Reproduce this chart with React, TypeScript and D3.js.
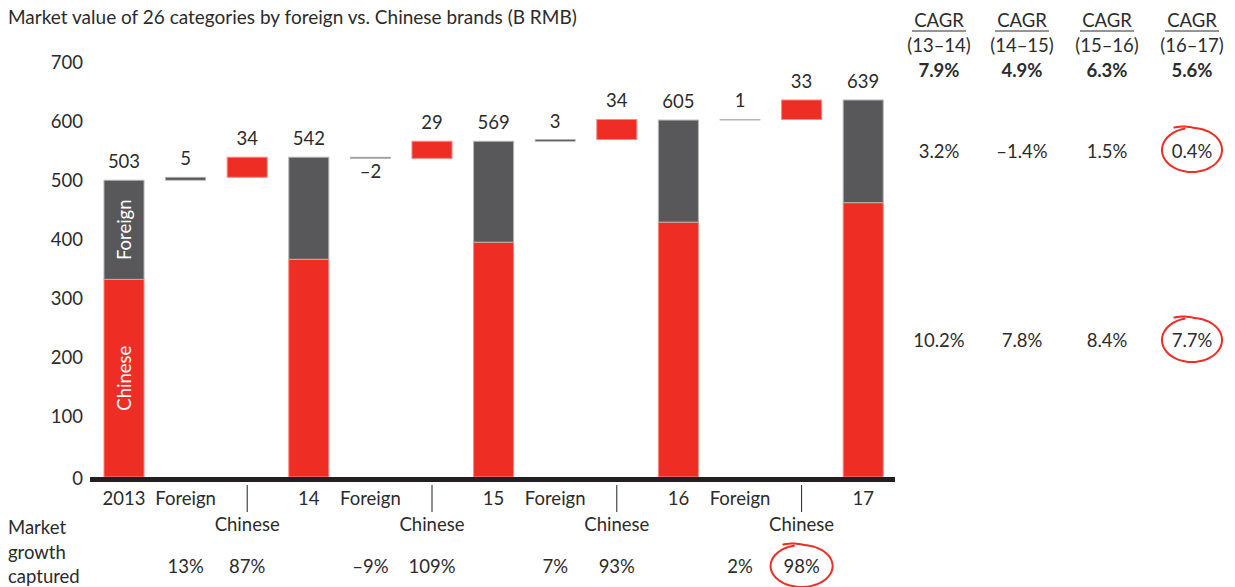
import React from "react";
import * as d3 from "d3";

// ---- data ----
const years = ["2013", "14", "15", "16", "17"];
const totals = [503, 542, 569, 605, 639];
const chineseValues = [335, 369, 398, 432, 465];
const foreignChange = [5, -2, 3, 1];
const chineseChange = [34, 29, 34, 33];
const foreignCaptured = [13, -9, 7, 2];
const chineseCaptured = [87, 109, 93, 98];
const yTicks = [0, 100, 200, 300, 400, 500, 600, 700];
const cagrPeriods = ["13–14", "14–15", "15–16", "16–17"];
const cagrTotal = [7.9, 4.9, 6.3, 5.6];
const cagrForeign = [3.2, -1.4, 1.5, 0.4];
const cagrChinese = [10.2, 7.8, 8.4, 7.7];

const RED = "#EE2E24";
const RED_EDGE = "#F58A84";
const GRAY = "#58585A";
const GRAY_EDGE = "#B5B5B5";
const TEXT = "#2B2B2B";
const FONT = "Lato, 'DejaVu Sans', sans-serif";

const W = 1235;
const H = 587;

const fmtNum = (v: number) => (v < 0 ? "–" + Math.abs(v) : String(v));
const fmtPct = (v: number) => (v < 0 ? "–" + Math.abs(v) : String(v)) + "%";
const fmtPct1 = (v: number) => (v < 0 ? "–" + Math.abs(v).toFixed(1) : v.toFixed(1)) + "%";

function handCircle(cx: number, cy: number, rx: number, ry: number) {
  const pts: [number, number][] = [];
  const start = -0.68 * Math.PI;
  const n = 80;
  const total = 2 * Math.PI + 0.1 * Math.PI;
  for (let i = 0; i <= n; i++) {
    const t = i / n;
    const a = start + t * total;
    const lead = t < 0.1 ? 1 - t / 0.1 : 0;
    const k = 1 + 0.1 * lead;
    pts.push([cx + rx * k * Math.cos(a), cy + ry * k * Math.sin(a) - 2 * lead]);
  }
  return d3.line().curve(d3.curveCatmullRom)(pts) || "";
}

function HandCircle({ cx, cy, rx, ry }: { cx: number; cy: number; rx: number; ry: number }) {
  return (
    <path d={handCircle(cx, cy, rx, ry)} fill="none" stroke={RED} strokeWidth={2} strokeLinecap="round" />
  );
}

export default function App() {
  const slots: { key: string; kind: "year" | "f" | "c"; i: number }[] = [];
  years.forEach((yr, i) => {
    slots.push({ key: "y" + i, kind: "year", i });
    if (i < years.length - 1) {
      slots.push({ key: "f" + i, kind: "f", i });
      slots.push({ key: "c" + i, kind: "c", i });
    }
  });

  const x = d3
    .scaleBand<string>()
    .domain(slots.map((s) => s.key))
    .range([93.2, 894])
    .paddingInner(0.35)
    .paddingOuter(0.175);
  const y = d3.scaleLinear().domain([0, 700]).range([477, 64]);
  const bw = x.bandwidth();
  const cxOf = (k: string) => (x(k) as number) + bw / 2;

  const cagrX = [939, 1022, 1107, 1192];
  const FS = 18.5;

  return (
    <svg width={W} height={H} style={{ position: "absolute", left: 0, top: 0 }} fontFamily={FONT}>
      <text x={8} y={24} fontSize={19} fill={TEXT}>
        Market value of 26 categories by foreign vs. Chinese brands (B RMB)
      </text>

      {yTicks.map((t) => (
        <text key={t} x={83} y={y(t) + (t === 0 ? 1 : -2)} fontSize={FS} fill={TEXT} textAnchor="end" dominantBaseline="central">
          {t}
        </text>
      ))}

      {years.map((yr, i) => {
        const k = "y" + i;
        const x0 = x(k) as number;
        return (
          <g key={k}>
            <rect x={x0} y={y(chineseValues[i])} width={bw} height={y(0) - y(chineseValues[i])} fill={RED} stroke={RED_EDGE} strokeWidth={1} />
            <rect x={x0} y={y(totals[i])} width={bw} height={y(chineseValues[i]) - y(totals[i])} fill={GRAY} stroke={GRAY_EDGE} strokeWidth={1} />
            <text x={x0 + bw / 2} y={y(totals[i]) - 12} fontSize={FS} fill={TEXT} textAnchor="middle">
              {totals[i]}
            </text>
          </g>
        );
      })}

      <text
        transform={`translate(${cxOf("y0")},${(y(totals[0]) + y(chineseValues[0])) / 2}) rotate(-90)`}
        fontSize={FS}
        fill="#fff"
        textAnchor="middle"
        dominantBaseline="central"
      >
        Foreign
      </text>
      <text
        transform={`translate(${cxOf("y0")},${(y(chineseValues[0]) + y(0)) / 2}) rotate(-90)`}
        fontSize={FS}
        fill="#fff"
        textAnchor="middle"
        dominantBaseline="central"
      >
        Chinese
      </text>

      {foreignChange.map((fc, i) => {
        const kf = "f" + i;
        const kc = "c" + i;
        const f0 = totals[i];
        const f1 = totals[i] + fc;
        const c0 = f1;
        const c1 = f1 + chineseChange[i];
        const fTop = y(Math.max(f0, f1));
        const fBot = y(Math.min(f0, f1));
        return (
          <g key={kf}>
            <rect x={x(kf) as number} y={fTop} width={bw} height={fBot - fTop} fill={GRAY} stroke={GRAY_EDGE} strokeWidth={0.8} />
            <text x={cxOf(kf)} y={fc >= 0 ? fTop - 12 : fBot + 20} fontSize={FS} fill={TEXT} textAnchor="middle">
              {fmtNum(fc)}
            </text>
            <rect x={x(kc) as number} y={y(c1)} width={bw} height={y(c0) - y(c1)} fill={RED} stroke={RED_EDGE} strokeWidth={1} />
            <text x={cxOf(kc)} y={y(c1) - 12} fontSize={FS} fill={TEXT} textAnchor="middle">
              {fmtNum(chineseChange[i])}
            </text>
          </g>
        );
      })}

      <rect x={90} y={477} width={805} height={5} fill="#231F20" />

      {slots.map((s) => {
        const cx = cxOf(s.key);
        if (s.kind === "year")
          return (
            <text key={"l" + s.key} x={cx} y={505} fontSize={FS} fill={TEXT} textAnchor="middle">
              {years[s.i]}
            </text>
          );
        if (s.kind === "f")
          return (
            <text key={"l" + s.key} x={cx} y={505} fontSize={FS} fill={TEXT} textAnchor="middle">
              Foreign
            </text>
          );
        return (
          <g key={"l" + s.key}>
            <line x1={cx} x2={cx} y1={485} y2={512} stroke="#231F20" strokeWidth={1} />
            <text x={cx} y={531} fontSize={FS} fill={TEXT} textAnchor="middle">
              Chinese
            </text>
          </g>
        );
      })}

      <text fontSize={FS} fill={TEXT}>
        <tspan x={8} y={534}>Market</tspan>
        <tspan x={8} y={559}>growth</tspan>
        <tspan x={8} y={583}>captured</tspan>
      </text>
      {foreignCaptured.map((v, i) => (
        <g key={"cap" + i}>
          <text x={cxOf("f" + i)} y={573} fontSize={FS} fill={TEXT} textAnchor="middle">
            {fmtPct(v)}
          </text>
          <text x={cxOf("c" + i)} y={573} fontSize={FS} fill={TEXT} textAnchor="middle">
            {fmtPct(chineseCaptured[i])}
          </text>
        </g>
      ))}
      <HandCircle cx={cxOf("c3")} cy={566} rx={31} ry={21} />

      {cagrPeriods.map((p, i) => (
        <g key={"cagr" + i}>
          <text x={cagrX[i]} y={27} fontSize={FS} fill={TEXT} textAnchor="middle">
            CAGR
          </text>
          <line x1={cagrX[i] - 27} x2={cagrX[i] + 27} y1={31} y2={31} stroke={TEXT} strokeWidth={1} />
          <text x={cagrX[i]} y={52} fontSize={FS} fill={TEXT} textAnchor="middle">
            ({p})
          </text>
          <text x={cagrX[i]} y={77} fontSize={FS} fontWeight="bold" fill={TEXT} textAnchor="middle">
            {fmtPct1(cagrTotal[i])}
          </text>
          <text x={cagrX[i]} y={158} fontSize={FS} fill={TEXT} textAnchor="middle">
            {fmtPct1(cagrForeign[i])}
          </text>
          <text x={cagrX[i]} y={347} fontSize={FS} fill={TEXT} textAnchor="middle">
            {fmtPct1(cagrChinese[i])}
          </text>
        </g>
      ))}
      <HandCircle cx={cagrX[3]} cy={150} rx={30} ry={22} />
      <HandCircle cx={cagrX[3]} cy={340} rx={30} ry={22} />
    </svg>
  );
}
